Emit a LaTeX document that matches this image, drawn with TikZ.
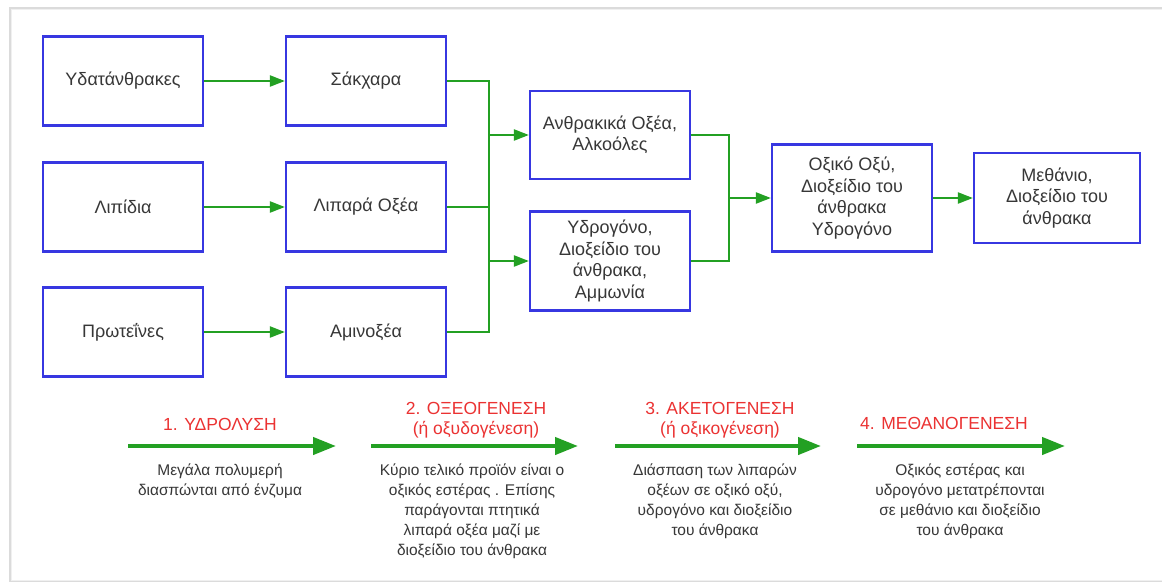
\documentclass[tikz,border=0pt]{standalone}
\usepackage{fontspec}
\setmainfont{Liberation Sans}
\usetikzlibrary{arrows.meta}
\definecolor{boxblue}{RGB}{55,55,225}
\definecolor{flowgreen}{RGB}{35,160,35}
\definecolor{stagered}{RGB}{235,50,50}
\definecolor{txtgray}{RGB}{55,55,55}
\begin{document}
\begin{tikzpicture}[x=1pt,y=-1pt,
  box/.style={draw=boxblue,line width=2.2pt,minimum width=160pt,minimum height=89pt,
    align=center,text=txtgray,inner sep=0pt,font=\fontsize{18}{21.5}\selectfont},
  flow/.style={draw=flowgreen,line width=2.2pt},
  flowtip/.style={flow,-{Triangle[length=15pt,width=11pt]}},
  bigflow/.style={draw=flowgreen,line width=4.2pt,-{Triangle[length=23pt,width=17pt]}},
  stage/.style={text=stagered,align=center,font=\fontsize{17.5}{20}\selectfont},
  note/.style={text=txtgray,align=center,anchor=north,font=\fontsize{15.5}{20}\selectfont}]
\useasboundingbox (0,0) rectangle (1162,582);
% card with its shadow
\fill[black!14] (9,7) rectangle (1162,582);
\fill[black!6] (11,9) rectangle (1162,581);
\fill[white] (12,10) rectangle (1162,580);

% first two columns
\node[box] (ydat) at (123,81) {Υδατάνθρακες};
\node[box] (lipi) at (123,207) {Λιπίδια};
\node[box] (prot) at (123,332) {Πρωτεΐνες};
\node[box] (sakx) at (366,81) {Σάκχαρα};
\node[box] (lipox) at (366,207) {Λιπαρά Οξέα};
\node[box] (amin) at (366,332) {Αμινοξέα};

% third column and the rest
\node[box,minimum height=88pt] (anth) at (610,135) {Ανθρακικά Οξέα,\\Αλκοόλες};
\node[box,minimum height=99pt] (ydro) at (610,261) {Υδρογόνο,\\Διοξείδιο του\\άνθρακα,\\Αμμωνία};
\node[box,minimum height=107pt] (oxik) at (852,198) {Οξικό Οξύ,\\Διοξείδιο του\\άνθρακα\\Υδρογόνο};
\node[box,minimum width=166pt,minimum height=90pt] (meth) at (1057,198) {Μεθάνιο,\\Διοξείδιο του\\άνθρακα};

\coordinate (j1) at (489,0);
\coordinate (j2) at (729,0);

\draw[flowtip] (ydat) -- (sakx);
\draw[flowtip] (lipi) -- (lipox);
\draw[flowtip] (prot) -- (amin);
\draw[flow] (sakx.east) -| (j1 |- amin.east) -- (amin.east);
\draw[flow] (lipox.east) -- (lipox.east -| j1);
\draw[flowtip] (j1 |- anth.west) -- (anth.west);
\draw[flowtip] (j1 |- ydro.west) -- (ydro.west);
\draw[flow] (anth.east) -| (j2 |- ydro.east) -- (ydro.east);
\draw[flowtip] (j2 |- oxik.west) -- (oxik.west);
\draw[flowtip] (oxik) -- (meth);

% stages
\coordinate (s1a) at (128,446); \coordinate (s1b) at (336,446);
\coordinate (s2a) at (371,446); \coordinate (s2b) at (578,446);
\coordinate (s3a) at (615,446); \coordinate (s3b) at (821,446);
\coordinate (s4a) at (857,446); \coordinate (s4b) at (1065,446);
\draw[bigflow] (s1a) -- (s1b);
\draw[bigflow] (s2a) -- (s2b);
\draw[bigflow] (s3a) -- (s3b);
\draw[bigflow] (s4a) -- (s4b);

\node[stage] (st1) at (220,424) {1. ΥΔΡΟΛΥΣΗ};
\node[stage] (st2) at (476,420) {2. ΟΞΕΟΓΕΝΕΣΗ\\(ή οξυδογένεση)};
\node[stage] (st3) at (720,420) {3. ΑΚΕΤΟΓΕΝΕΣΗ\\(ή οξικογένεση)};
\node[stage] (st4) at (944,423) {4. ΜΕΘΑΝΟΓΕΝΕΣΗ};

\node[note] (nt1) at (220,460) {Μεγάλα πολυμερή\\διασπώνται από ένζυμα};
\node[note] (nt2) at (472,460) {Κύριο τελικό προϊόν είναι ο\\οξικός εστέρας . Επίσης\\παράγονται πτητικά\\λιπαρά οξέα μαζί με\\διοξείδιο του άνθρακα};
\node[note] (nt3) at (715,460) {Διάσπαση των λιπαρών\\οξέων σε οξικό οξύ,\\υδρογόνο και διοξείδιο\\του άνθρακα};
\node[note] (nt4) at (960,460) {Οξικός εστέρας και\\υδρογόνο μετατρέπονται\\σε μεθάνιο και διοξείδιο\\του άνθρακα};
\end{tikzpicture}
\end{document}
